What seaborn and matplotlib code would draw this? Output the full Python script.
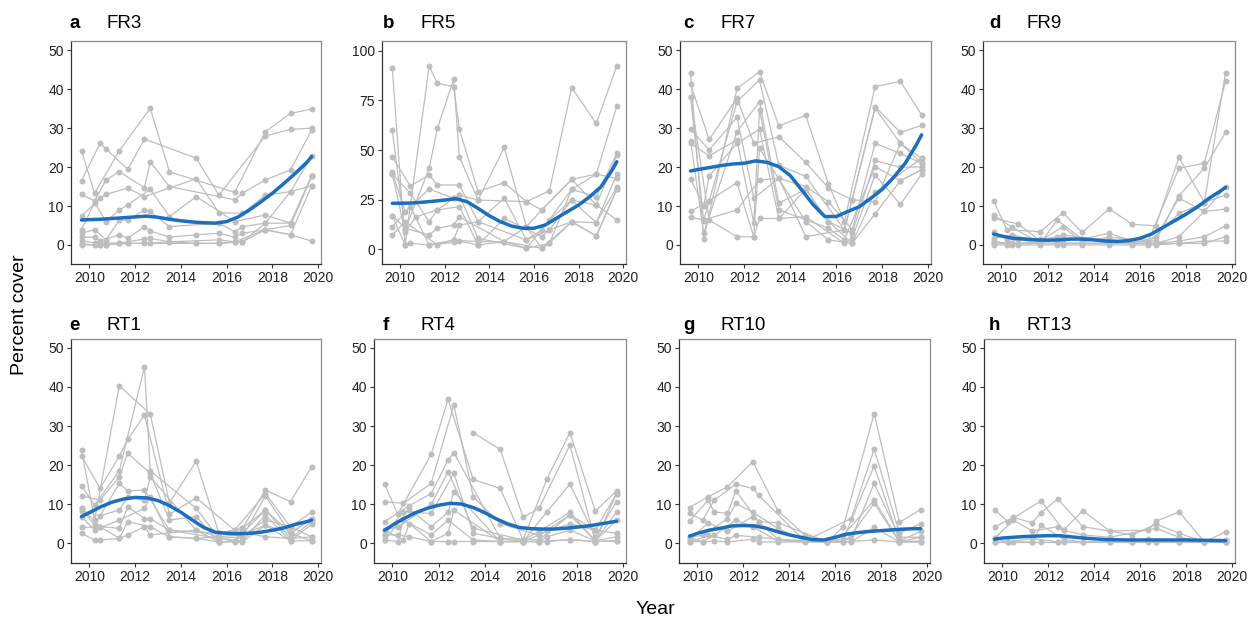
import matplotlib
matplotlib.use("Agg")
import matplotlib.pyplot as plt
import pandas as pd
import seaborn as sns

N = None

# Sampling dates (decimal years) shared by all sites
DATES = [2009.66, 2010.23, 2010.47, 2010.73, 2011.31, 2011.68, 2012.41, 2012.66,
         2013.50, 2014.67, 2015.66, 2016.35, 2016.69, 2017.69, 2018.79, 2019.71]

# Years at which the fitted trend is evaluated
TREND_YEARS = [2009.66, 2010.0, 2010.5, 2011.0, 2011.5, 2012.0, 2012.5, 2013.0,
               2013.5, 2014.0, 2014.5, 2015.0, 2015.5, 2016.0, 2016.5, 2017.0,
               2017.5, 2018.0, 2018.5, 2019.0, 2019.5, 2019.71]

# Percent cover per quadrat (one row per quadrat, None = not surveyed)
FR3 = [
    [24.2, 13.3, N, N, 24.2, N, N, 35.1, 18.8, N, N, 13.5, N, 29.1, 33.8, 34.9],
    [16.5, N, 26.1, 24.7, N, 19.4, 27.2, N, N, 22.3, 12.8, N, N, 28.0, 29.7, 30.0],
    [13.0, 11.3, N, 16.7, 18.8, N, 14.7, 21.4, 15.0, N, N, 11.6, 13.3, 16.7, 19.3, 29.5],
    [7.4, N, 12.0, 13.0, N, 14.6, 12.4, N, N, 17.0, 8.3, N, 8.1, 12.8, 13.7, 22.9],
    [3.9, 10.9, N, 6.0, 9.0, 10.3, N, 14.3, 7.3, 12.4, N, 6.0, N, 7.7, 5.6, 17.8],
    [3.0, 3.9, N, 1.3, 6.4, 6.4, 9.0, 8.6, 4.7, N, 5.6, 3.4, 4.7, 5.6, 5.6, 17.6],
    [2.0, 2.0, 1.0, N, 2.6, 1.7, 4.7, 3.6, 2.0, 2.6, 3.0, 2.0, 3.0, 3.9, 2.6, 15.2],
    [1.1, 0.5, N, 0.5, 0.5, N, 1.5, 1.7, 0.8, N, 1.3, 0.8, N, 3.9, 2.6, 1.0],
    [0.3, 0.0, 0.0, 0.0, N, 0.4, 0.4, N, 0.8, 0.4, 0.4, N, 0.8, 3.9, 5.0, 17.6],
    [0.0, N, 0.0, 0.0, 0.5, 0.4, N, 0.4, N, 0.4, 0.4, 0.8, 0.8, 5.6, 13.7, 15.2],
]
FR5 = [
    [91.4, 2.2, N, N, 92.3, 83.6, 81.9, 60.6, 29.0, 33.6, 24.0, N, 29.4, 81.4, 63.4, 92.3],
    [60.0, 9.7, N, N, 40.8, 60.9, 85.7, 46.6, 24.8, 51.3, 11.4, 19.8, N, 35.2, 37.9, 72.1],
    [46.5, N, 31.9, N, 37.4, 32.4, N, 32.4, 13.9, 25.7, 4.7, 9.7, N, 30.2, 26.5, 48.3],
    [38.8, 19.0, N, N, 30.4, N, 25.7, 27.3, 5.5, N, 0.5, N, 14.8, 24.8, 22.3, 47.5],
    [37.9, N, 28.2, N, 13.9, 19.8, N, 21.5, 2.2, 15.6, N, 6.4, 9.7, 13.9, 13.4, 37.9],
    [17.0, 10.6, N, N, 7.2, 10.6, 12.2, 16.4, N, 3.9, N, 0.5, 3.0, 30.2, 37.9, 35.7],
    [11.4, N, 21.5, N, 2.2, N, 4.7, 12.2, 13.9, N, 4.7, N, 9.7, 24.8, 13.4, 31.5],
    [7.2, 13.9, N, N, N, 2.2, 4.7, N, 2.2, 3.9, 11.4, 0.5, N, 13.9, 6.7, 30.2],
    [38.0, 8.9, N, 16.4, N, 19.8, 25.7, 27.3, 24.8, N, 24.0, 19.8, N, 35.2, 22.3, 14.8],
    [17.0, 2.2, 3.0, N, 2.2, N, 3.5, 4.4, 3.9, 3.9, 0.5, N, 3.0, 13.9, 6.7, 30.2],
]
FR7 = [
    [44.1, 1.5, N, N, N, 40.2, N, 44.5, 30.6, 33.3, 15.7, 6.0, N, 40.7, 42.0, 33.4],
    [41.3, N, 27.1, N, N, 37.7, 26.1, N, 27.8, 21.2, 14.6, N, 11.6, 35.5, 28.9, 30.7],
    [38.1, 6.2, N, N, N, 36.8, N, 42.4, 20.5, 17.6, N, 3.9, N, 35.1, 26.1, 22.3],
    [29.8, N, 24.4, N, N, 32.8, 12.0, N, 17.1, 15.0, 11.1, N, 3.9, 26.1, 23.5, 21.0],
    [26.8, 3.0, N, N, N, 29.1, N, 36.8, 10.7, 14.3, 6.0, N, 3.0, 21.7, 19.9, 20.1],
    [26.1, N, 22.9, N, N, 27.0, 5.6, 34.7, 9.0, N, 4.3, 1.3, N, 20.1, 16.5, 19.3],
    [17.0, 10.0, 17.8, N, N, 26.1, N, 29.7, 6.8, 7.3, N, 0.4, 1.7, 18.0, 10.4, 18.2],
    [8.6, N, 11.4, N, N, 16.0, 2.1, 24.8, N, 6.0, 1.3, N, 0.4, 13.5, N, 22.3],
    [7.1, 6.4, N, N, N, 9.0, N, 16.7, 17.1, 2.1, N, 3.9, 11.6, 11.1, 26.1, 21.0],
    [38.1, N, 6.4, N, N, 2.1, 2.1, 6.8, 6.8, 14.3, 6.0, N, 0.4, 8.0, 16.5, 19.3],
]
FR9 = [
    [11.4, 3.9, N, N, N, 3.4, N, 8.3, 3.2, 9.3, 5.3, N, 4.9, 22.5, 10.9, 44.3],
    [7.7, N, 4.5, N, N, 0.4, 6.4, N, 1.5, 3.0, 1.0, 0.8, N, 19.7, 21.0, 42.0],
    [6.8, N, N, 5.4, N, 1.0, N, 4.7, 0.8, 2.0, N, N, 1.0, 12.7, 19.7, 28.9],
    [3.4, 1.5, N, N, N, 1.5, 2.0, N, 1.5, 1.5, 0.4, N, 2.0, 12.0, 8.6, 14.8],
    [1.7, N, 2.6, N, N, 0.8, N, 2.6, N, 1.0, 0.4, 0.4, N, 8.1, 10.9, 12.8],
    [0.4, 0.4, N, 1.5, N, 0.4, 0.4, N, 0.4, 0.4, N, 0.4, 0.4, 2.1, 8.6, 9.2],
    [0.4, N, 0.4, N, N, 0.4, N, 0.4, 0.4, 0.4, 0.4, N, 0.4, 1.0, 2.1, 4.9],
    [1.0, 0.4, N, 0.4, N, N, 1.0, 0.4, N, 0.4, 0.4, 0.4, N, 0.4, 0.4, 2.1],
    [0.0, 0.0, 0.0, 0.0, N, 0.0, 0.0, 0.0, 0.0, 0.0, 0.0, 0.0, 0.0, 0.4, 1.0, 1.0],
]
RT1 = [
    [23.8, 5.9, N, N, 40.3, N, N, 33.1, 10.3, 21.0, 2.5, N, 3.8, 13.6, 10.6, 19.6],
    [22.4, N, 14.0, N, 22.3, 26.6, 32.8, N, 7.4, 11.6, N, 3.3, N, 12.7, 4.2, 7.9],
    [14.7, 9.7, N, N, 18.5, N, 45.2, 18.5, N, 8.9, 1.2, N, 1.6, 12.1, 2.5, 6.3],
    [12.1, N, 11.0, N, 17.0, 23.0, N, 17.9, 5.9, 6.8, 0.3, 0.5, N, 8.5, 1.2, 5.5],
    [8.9, 4.6, N, N, 15.3, 13.4, 13.6, N, 3.3, N, 1.2, N, 0.5, 7.2, 0.6, 4.8],
    [8.3, N, 7.0, N, 8.5, 11.9, 11.0, 17.0, N, 3.3, 0.3, 0.5, N, 5.9, 4.2, 1.6],
    [6.8, 3.3, N, N, 5.9, N, 8.9, 11.9, 1.6, 1.2, N, N, 2.1, 4.6, 2.5, 0.6],
    [4.0, N, 4.2, N, 3.8, 9.3, 6.3, 6.3, 3.3, N, 2.5, 3.3, N, 1.6, 1.2, 1.6],
    [2.5, 0.8, 0.8, N, 1.2, 5.5, N, 4.2, 1.6, 1.2, 0.3, N, 0.3, 4.6, 0.6, 0.6],
    [8.9, N, 4.2, N, 1.2, 2.1, 4.2, 2.1, N, 3.3, N, 0.3, 3.8, 8.5, 2.5, 6.3],
]
RT4 = [
    [15.1, 7.4, N, N, N, 22.8, 36.8, N, 16.3, 14.0, 0.8, N, 16.4, 28.3, 8.2, 13.4],
    [10.6, N, 10.2, N, N, 15.3, N, 35.4, 11.9, 5.0, N, 2.0, N, 7.2, 3.3, 12.7],
    [5.5, N, N, 9.6, N, 12.7, 21.3, 23.2, N, 1.2, 0.4, N, 8.0, 15.1, 1.6, 10.6],
    [3.3, 4.2, N, N, N, 9.9, 18.3, N, 3.8, N, 0.8, 3.0, N, 7.9, 0.6, 7.9],
    [2.1, N, 8.0, N, N, 7.6, N, 17.9, 2.5, 1.2, N, 0.8, N, 7.2, 0.6, 5.9],
    [0.8, N, N, 8.7, N, 4.2, 7.9, 13.2, N, 0.4, 0.4, N, 3.0, 4.9, 3.3, 2.5],
    [0.8, 0.4, 5.9, N, N, 2.1, 5.9, N, 0.8, 0.4, N, 0.4, 1.6, 3.3, 0.6, 1.6],
    [3.3, N, 0.8, 5.0, N, 0.4, 2.5, 8.5, N, 0.4, 0.4, N, 0.4, 0.9, 0.4, 0.6],
    [2.1, 2.1, N, 1.6, N, 0.4, 0.4, 0.4, 0.4, N, 0.4, 0.4, N, 0.9, 0.4, 0.6],
    [N, N, N, N, N, N, N, N, 28.3, 24.0, 6.6, 8.9, N, 25.1, 0.4, 12.7],
]
RT10 = [
    [9.1, N, 11.9, N, 14.4, N, 20.9, N, 8.3, 2.1, 0.3, 4.2, N, 33.2, 5.3, 8.6],
    [7.6, 5.9, N, 11.0, N, 15.1, 14.0, 12.3, N, 0.5, N, N, 6.3, 24.1, 2.5, 5.0],
    [5.7, N, 11.0, 8.0, 7.6, 13.4, N, 5.5, 5.2, N, 0.3, 1.0, N, 19.8, 0.5, 3.0],
    [1.5, 2.0, N, N, 6.3, 10.2, 7.9, N, 3.8, 0.5, N, N, 1.0, 15.3, 1.5, 1.5],
    [0.8, N, 5.2, N, 3.0, N, 6.8, 5.5, 1.0, N, 0.3, 2.0, N, 11.0, 0.5, 0.5],
    [0.4, 0.4, N, 2.0, N, 5.9, 4.2, N, 0.5, 0.5, N, 0.3, 2.0, 10.2, 0.3, 1.5],
    [0.2, N, 2.0, N, 1.0, 2.0, N, 1.5, N, 0.3, 0.3, N, 0.3, 4.0, 0.3, 0.3],
    [1.5, 0.3, N, 0.5, 0.3, N, 1.0, 0.3, 0.3, N, 0.3, 0.3, N, 0.8, 0.3, 0.3],
]
RT13 = [
    [8.6, 5.5, N, N, N, 10.8, N, 3.3, 8.3, 3.1, N, 3.3, 5.6, 8.0, 0.3, 2.9],
    [4.1, N, 6.6, N, 5.2, 7.8, 11.3, N, 4.2, N, 2.1, N, 4.9, 2.5, 0.3, 0.9],
    [1.2, N, 5.9, N, 3.1, N, 4.2, 3.3, 2.1, 1.5, N, N, 3.8, 1.5, 0.3, 0.3],
    [0.3, 0.3, N, N, 0.3, 4.6, N, 1.0, 0.3, 0.3, 0.3, 1.0, N, 0.8, 0.3, 0.9],
    [0.3, N, 0.3, N, 0.3, 0.3, 0.3, N, 0.3, N, 0.3, 0.3, 0.3, 0.3, 0.3, 0.3],
    [1.2, 0.3, N, N, 1.2, N, 0.3, 0.3, N, 0.3, 1.0, N, 0.3, 0.3, N, 0.3],
]

# Fitted mean trend per site
FR3_TREND = [6.4, 6.5, 6.6, 6.8, 7.0, 7.2, 7.4, 7.1, 6.6, 6.2, 5.9, 5.7, 5.6, 6.0,
             7.2, 9.0, 11.1, 13.3, 15.8, 18.4, 21.2, 22.7]
FR5_TREND = [23.2, 23.2, 23.3, 23.7, 24.2, 24.8, 25.5, 24.0, 20.6, 16.9, 13.9, 11.7,
             10.6, 10.6, 12.2, 15.6, 19.0, 22.3, 26.5, 31.5, 39.9, 44.1]
FR7_TREND = [19.0, 19.4, 19.9, 20.4, 20.8, 21.0, 21.6, 21.2, 20.1, 17.8, 14.1, 10.3,
             7.3, 7.3, 8.6, 9.8, 12.0, 14.3, 17.4, 21.0, 25.9, 28.3]
FR9_TREND = [2.8, 2.3, 1.7, 1.5, 1.3, 1.2, 1.3, 1.5, 1.5, 1.3, 1.0, 0.9, 1.1, 1.7,
             2.8, 4.5, 6.2, 7.9, 9.8, 12.0, 13.9, 14.8]
RT1_TREND = [6.8, 7.8, 9.3, 10.5, 11.3, 11.7, 11.6, 10.9, 9.6, 7.9, 5.9, 4.0, 2.8,
             2.5, 2.4, 2.5, 2.8, 3.3, 3.9, 4.8, 5.5, 5.9]
RT4_TREND = [3.3, 4.6, 6.3, 7.8, 8.9, 9.7, 10.2, 10.0, 9.1, 7.8, 6.2, 4.9, 4.0, 3.7,
             3.6, 3.6, 3.8, 4.1, 4.4, 4.9, 5.4, 5.6]
RT10_TREND = [1.8, 2.5, 3.3, 3.8, 4.4, 4.5, 4.4, 3.8, 2.9, 2.1, 1.5, 0.9, 0.8, 1.5,
              2.3, 2.7, 3.0, 3.2, 3.4, 3.6, 3.7, 3.7]
RT13_TREND = [1.0, 1.3, 1.5, 1.7, 1.8, 1.9, 1.9, 1.6, 1.3, 1.1, 0.9, 0.85, 0.8, 0.8,
              0.8, 0.8, 0.8, 0.8, 0.75, 0.7, 0.65, 0.6]

LETTERS = ["a", "b", "c", "d", "e", "f", "g", "h"]
SITES = ["FR3", "FR5", "FR7", "FR9", "RT1", "RT4", "RT10", "RT13"]
SERIES = [FR3, FR5, FR7, FR9, RT1, RT4, RT10, RT13]
TRENDS = [FR3_TREND, FR5_TREND, FR7_TREND, FR9_TREND,
          RT1_TREND, RT4_TREND, RT10_TREND, RT13_TREND]
X_TICKS = [2010, 2012, 2014, 2016, 2018, 2020]

W, H = 1256, 624
GREY = "#BEBEBE"
BLUE = "#1C6EBF"
DARK = "#333333"

# panel boxes in pixels: (left, right, top, bottom)
BOXES = [(71, 321, 41, 264), (382, 626, 41, 264), (680, 931, 41, 264), (983, 1235, 41, 264),
         (71, 321, 339, 563), (374, 626, 339, 563), (679, 930, 339, 563), (984, 1235, 339, 563)]
TITLE_X = [69, 383, 683, 989]
TITLE_Y = [28, 330]

sns.set_theme(style="ticks")
plt.rcParams["font.family"] = ["Liberation Sans", "DejaVu Sans"]

fig = plt.figure(figsize=(W / 100, H / 100), dpi=100)


def long_form(series):
    rows = []
    for pid, vals in enumerate(series):
        for d, v in zip(DATES, vals):
            if v is not None:
                rows.append((pid, d, v))
    return pd.DataFrame(rows, columns=["quadrat", "year", "cover"])


for i in range(8):
    l, r, t, b = BOXES[i]
    ax = fig.add_axes([l / W, 1 - b / H, (r - l) / W, (b - t) / H])
    df = long_form(SERIES[i])
    sns.lineplot(data=df, x="year", y="cover", units="quadrat", estimator=None,
                 color=GREY, lw=0.9, marker="o", markersize=4.3,
                 markeredgewidth=0, markeredgecolor=GREY, ax=ax, legend=False)
    sns.lineplot(x=TREND_YEARS, y=TRENDS[i], color=BLUE, lw=2.5,
                 estimator=None, ax=ax, legend=False)

    ax.set_xlim(2009.2, 2020.12)
    ax.set_xticks(X_TICKS)
    if SITES[i] == "FR5":
        ax.set_ylim(-7.4, 104.9)
        ax.set_yticks([0, 25, 50, 75, 100])
    elif i < 4:
        ax.set_ylim(-4.9, 52.4)
        ax.set_yticks([0, 10, 20, 30, 40, 50])
    else:
        ax.set_ylim(-5.1, 52.3)
        ax.set_yticks([0, 10, 20, 30, 40, 50])
    ax.set_xlabel("")
    ax.set_ylabel("")
    ax.tick_params(axis="both", direction="out", length=3.2, width=0.8,
                   color=DARK, labelcolor="#222222", labelsize=10, pad=2)
    for side in ("left", "bottom"):
        ax.spines[side].set_color(DARK)
        ax.spines[side].set_linewidth(0.9)
    for side in ("top", "right"):
        ax.spines[side].set_visible(True)
        ax.spines[side].set_color("#8C8C8C")
        ax.spines[side].set_linewidth(0.9)
    ax.set_facecolor("white")

    col, row = i % 4, i // 4
    fig.text(TITLE_X[col] / W, 1 - TITLE_Y[row] / H, LETTERS[i], fontsize=13.5,
             fontweight="bold", ha="left", va="baseline", color="black")
    fig.text((TITLE_X[col] + 38) / W, 1 - TITLE_Y[row] / H, SITES[i], fontsize=13.5,
             ha="left", va="baseline", color="black")

fig.text(20 / W, 1 - 315 / H, "Percent cover", rotation=90, fontsize=14,
         ha="center", va="center", color="black")
fig.text(655 / W, 1 - 610 / H, "Year", fontsize=14, ha="center", va="center",
         color="black")

fig.savefig("out.png", dpi=100, facecolor="white")
